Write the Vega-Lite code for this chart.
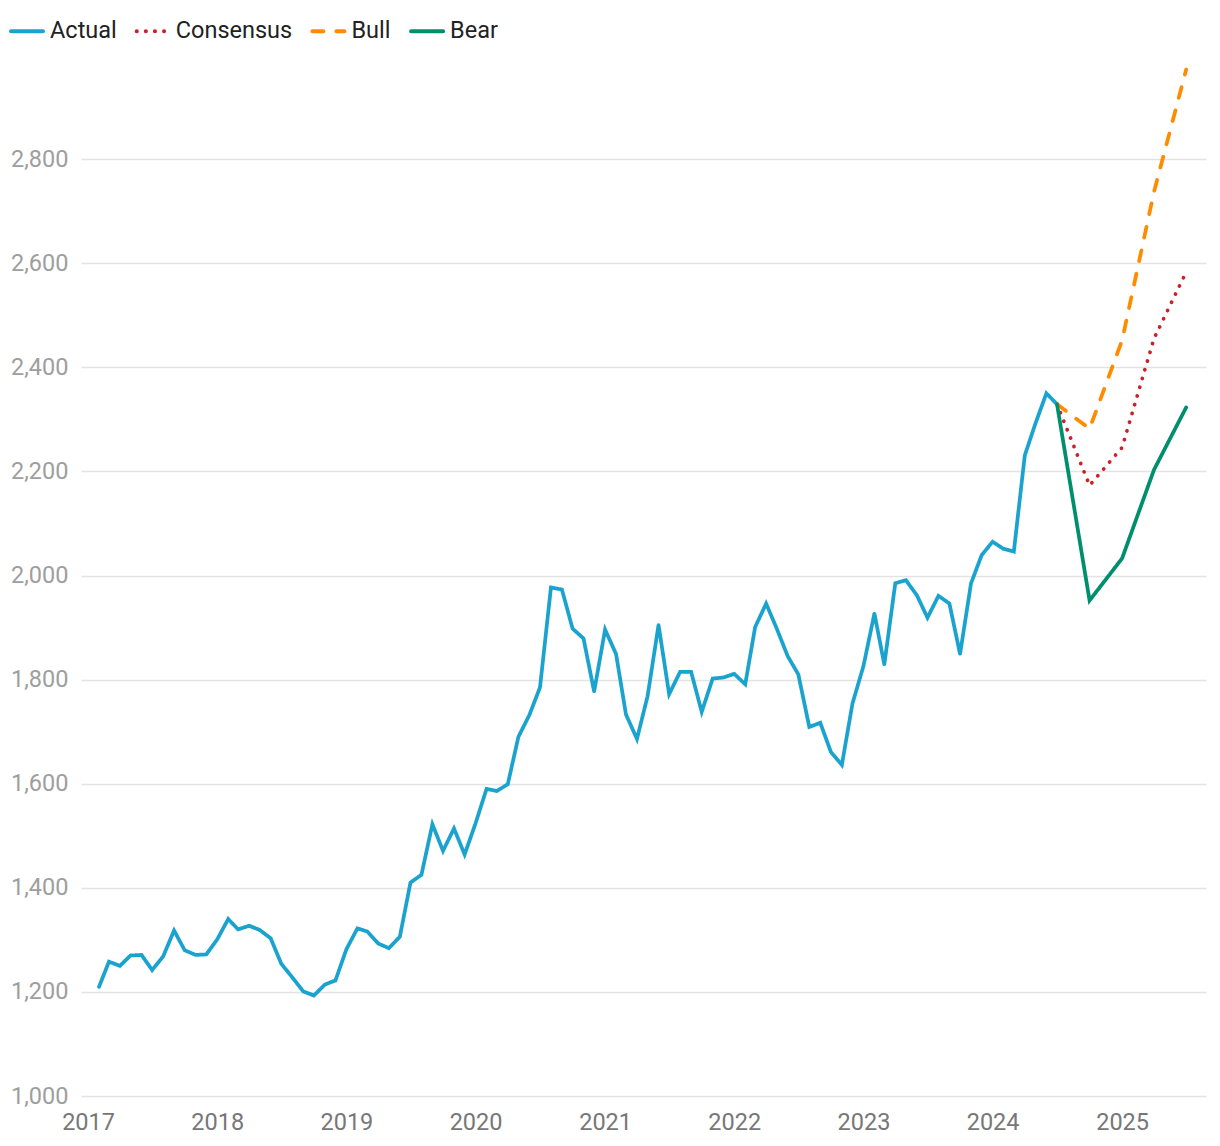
{
  "$schema": "https://vega.github.io/schema/vega-lite/v6.json",
  "width": 1125,
  "height": 1041,
  "autosize": {"type": "none"},
  "padding": {"left": 81, "top": 55, "right": 14, "bottom": 50},
  "background": "#ffffff",
  "config": {
    "view": {"stroke": null},
    "font": "Roboto"
  },
  "data": {
    "values": [
      {"date": "2017-02-01T00:00:00", "value": 1210, "series": "Actual"},
      {"date": "2017-03-01T00:00:00", "value": 1258, "series": "Actual"},
      {"date": "2017-04-01T00:00:00", "value": 1250, "series": "Actual"},
      {"date": "2017-05-01T00:00:00", "value": 1270, "series": "Actual"},
      {"date": "2017-06-01T00:00:00", "value": 1271, "series": "Actual"},
      {"date": "2017-07-01T00:00:00", "value": 1242, "series": "Actual"},
      {"date": "2017-08-01T00:00:00", "value": 1268, "series": "Actual"},
      {"date": "2017-09-01T00:00:00", "value": 1318, "series": "Actual"},
      {"date": "2017-10-01T00:00:00", "value": 1280, "series": "Actual"},
      {"date": "2017-11-01T00:00:00", "value": 1271, "series": "Actual"},
      {"date": "2017-12-01T00:00:00", "value": 1272, "series": "Actual"},
      {"date": "2018-01-01T00:00:00", "value": 1301, "series": "Actual"},
      {"date": "2018-02-01T00:00:00", "value": 1340, "series": "Actual"},
      {"date": "2018-03-01T00:00:00", "value": 1320, "series": "Actual"},
      {"date": "2018-04-01T00:00:00", "value": 1327, "series": "Actual"},
      {"date": "2018-05-01T00:00:00", "value": 1319, "series": "Actual"},
      {"date": "2018-06-01T00:00:00", "value": 1303, "series": "Actual"},
      {"date": "2018-07-01T00:00:00", "value": 1254, "series": "Actual"},
      {"date": "2018-08-01T00:00:00", "value": 1228, "series": "Actual"},
      {"date": "2018-09-01T00:00:00", "value": 1201, "series": "Actual"},
      {"date": "2018-10-01T00:00:00", "value": 1193, "series": "Actual"},
      {"date": "2018-11-01T00:00:00", "value": 1214, "series": "Actual"},
      {"date": "2018-12-01T00:00:00", "value": 1222, "series": "Actual"},
      {"date": "2019-01-01T00:00:00", "value": 1282, "series": "Actual"},
      {"date": "2019-02-01T00:00:00", "value": 1322, "series": "Actual"},
      {"date": "2019-03-01T00:00:00", "value": 1316, "series": "Actual"},
      {"date": "2019-04-01T00:00:00", "value": 1293, "series": "Actual"},
      {"date": "2019-05-01T00:00:00", "value": 1284, "series": "Actual"},
      {"date": "2019-06-01T00:00:00", "value": 1306, "series": "Actual"},
      {"date": "2019-07-01T00:00:00", "value": 1410, "series": "Actual"},
      {"date": "2019-08-01T00:00:00", "value": 1425, "series": "Actual"},
      {"date": "2019-09-01T00:00:00", "value": 1522, "series": "Actual"},
      {"date": "2019-10-01T00:00:00", "value": 1471, "series": "Actual"},
      {"date": "2019-11-01T00:00:00", "value": 1514, "series": "Actual"},
      {"date": "2019-12-01T00:00:00", "value": 1464, "series": "Actual"},
      {"date": "2020-01-01T00:00:00", "value": 1524, "series": "Actual"},
      {"date": "2020-02-01T00:00:00", "value": 1590, "series": "Actual"},
      {"date": "2020-03-01T00:00:00", "value": 1586, "series": "Actual"},
      {"date": "2020-04-01T00:00:00", "value": 1599, "series": "Actual"},
      {"date": "2020-05-01T00:00:00", "value": 1690, "series": "Actual"},
      {"date": "2020-06-01T00:00:00", "value": 1732, "series": "Actual"},
      {"date": "2020-07-01T00:00:00", "value": 1785, "series": "Actual"},
      {"date": "2020-08-01T00:00:00", "value": 1977, "series": "Actual"},
      {"date": "2020-09-01T00:00:00", "value": 1973, "series": "Actual"},
      {"date": "2020-10-01T00:00:00", "value": 1898, "series": "Actual"},
      {"date": "2020-11-01T00:00:00", "value": 1879, "series": "Actual"},
      {"date": "2020-12-01T00:00:00", "value": 1777, "series": "Actual"},
      {"date": "2021-01-01T00:00:00", "value": 1896, "series": "Actual"},
      {"date": "2021-02-01T00:00:00", "value": 1849, "series": "Actual"},
      {"date": "2021-03-01T00:00:00", "value": 1733, "series": "Actual"},
      {"date": "2021-04-01T00:00:00", "value": 1686, "series": "Actual"},
      {"date": "2021-05-01T00:00:00", "value": 1768, "series": "Actual"},
      {"date": "2021-06-01T00:00:00", "value": 1905, "series": "Actual"},
      {"date": "2021-07-01T00:00:00", "value": 1772, "series": "Actual"},
      {"date": "2021-08-01T00:00:00", "value": 1815, "series": "Actual"},
      {"date": "2021-09-01T00:00:00", "value": 1815, "series": "Actual"},
      {"date": "2021-10-01T00:00:00", "value": 1738, "series": "Actual"},
      {"date": "2021-11-01T00:00:00", "value": 1802, "series": "Actual"},
      {"date": "2021-12-01T00:00:00", "value": 1804, "series": "Actual"},
      {"date": "2022-01-01T00:00:00", "value": 1811, "series": "Actual"},
      {"date": "2022-02-01T00:00:00", "value": 1791, "series": "Actual"},
      {"date": "2022-03-01T00:00:00", "value": 1901, "series": "Actual"},
      {"date": "2022-04-01T00:00:00", "value": 1946, "series": "Actual"},
      {"date": "2022-05-01T00:00:00", "value": 1898, "series": "Actual"},
      {"date": "2022-06-01T00:00:00", "value": 1845, "series": "Actual"},
      {"date": "2022-07-01T00:00:00", "value": 1810, "series": "Actual"},
      {"date": "2022-08-01T00:00:00", "value": 1709, "series": "Actual"},
      {"date": "2022-09-01T00:00:00", "value": 1717, "series": "Actual"},
      {"date": "2022-10-01T00:00:00", "value": 1661, "series": "Actual"},
      {"date": "2022-11-01T00:00:00", "value": 1636, "series": "Actual"},
      {"date": "2022-12-01T00:00:00", "value": 1754, "series": "Actual"},
      {"date": "2023-01-01T00:00:00", "value": 1826, "series": "Actual"},
      {"date": "2023-02-01T00:00:00", "value": 1927, "series": "Actual"},
      {"date": "2023-03-01T00:00:00", "value": 1829, "series": "Actual"},
      {"date": "2023-04-01T00:00:00", "value": 1985, "series": "Actual"},
      {"date": "2023-05-01T00:00:00", "value": 1991, "series": "Actual"},
      {"date": "2023-06-01T00:00:00", "value": 1962, "series": "Actual"},
      {"date": "2023-07-01T00:00:00", "value": 1919, "series": "Actual"},
      {"date": "2023-08-01T00:00:00", "value": 1961, "series": "Actual"},
      {"date": "2023-09-01T00:00:00", "value": 1946, "series": "Actual"},
      {"date": "2023-10-01T00:00:00", "value": 1849, "series": "Actual"},
      {"date": "2023-11-01T00:00:00", "value": 1985, "series": "Actual"},
      {"date": "2023-12-01T00:00:00", "value": 2039, "series": "Actual"},
      {"date": "2024-01-01T00:00:00", "value": 2065, "series": "Actual"},
      {"date": "2024-02-01T00:00:00", "value": 2051, "series": "Actual"},
      {"date": "2024-03-01T00:00:00", "value": 2046, "series": "Actual"},
      {"date": "2024-04-01T00:00:00", "value": 2231, "series": "Actual"},
      {"date": "2024-05-01T00:00:00", "value": 2292, "series": "Actual"},
      {"date": "2024-06-01T00:00:00", "value": 2350, "series": "Actual"},
      {"date": "2024-07-01T00:00:00", "value": 2329, "series": "Actual"},
      {"date": "2024-07-01T00:00:00", "value": 2329, "series": "Consensus"},
      {"date": "2024-10-01T00:00:00", "value": 2173, "series": "Consensus"},
      {"date": "2025-01-01T00:00:00", "value": 2246, "series": "Consensus"},
      {"date": "2025-04-01T00:00:00", "value": 2455, "series": "Consensus"},
      {"date": "2025-07-01T00:00:00", "value": 2583, "series": "Consensus"},
      {"date": "2024-07-01T00:00:00", "value": 2329, "series": "Bull"},
      {"date": "2024-10-01T00:00:00", "value": 2282, "series": "Bull"},
      {"date": "2025-01-01T00:00:00", "value": 2452, "series": "Bull"},
      {"date": "2025-04-01T00:00:00", "value": 2737, "series": "Bull"},
      {"date": "2025-07-01T00:00:00", "value": 2972, "series": "Bull"},
      {"date": "2024-07-01T00:00:00", "value": 2329, "series": "Bear"},
      {"date": "2024-10-01T00:00:00", "value": 1952, "series": "Bear"},
      {"date": "2025-01-01T00:00:00", "value": 2033, "series": "Bear"},
      {"date": "2025-04-01T00:00:00", "value": 2203, "series": "Bear"},
      {"date": "2025-07-01T00:00:00", "value": 2323, "series": "Bear"}
    ]
  },
  "mark": {"type": "line", "strokeWidth": 3.75, "strokeCap": "round", "strokeJoin": "miter"},
  "encoding": {
    "x": {
      "field": "date",
      "type": "temporal",
      "scale": {
        "domain": [
          {"year": 2016, "month": 12, "date": 12},
          {"year": 2025, "month": 8, "date": 26}
        ],
        "nice": false
      },
      "axis": {
        "title": null,
        "format": "%Y",
        "values": [
          {"year": 2017, "month": 1, "date": 1},
          {"year": 2018, "month": 1, "date": 1},
          {"year": 2019, "month": 1, "date": 1},
          {"year": 2020, "month": 1, "date": 1},
          {"year": 2021, "month": 1, "date": 1},
          {"year": 2022, "month": 1, "date": 1},
          {"year": 2023, "month": 1, "date": 1},
          {"year": 2024, "month": 1, "date": 1},
          {"year": 2025, "month": 1, "date": 1}
        ],
        "grid": false,
        "domain": false,
        "ticks": false,
        "labelFont": "Roboto",
        "labelFontSize": 23.5,
        "labelColor": "#777777",
        "labelPadding": 14,
        "labelAlign": "center",
        "labelFlush": false,
        "labelOverlap": false
      }
    },
    "y": {
      "field": "value",
      "type": "quantitative",
      "scale": {"domain": [1000, 3000], "nice": false, "zero": false},
      "axis": {
        "title": null,
        "values": [1000, 1200, 1400, 1600, 1800, 2000, 2200, 2400, 2600, 2800],
        "format": ",.0f",
        "grid": true,
        "gridColor": "#e3e3e3",
        "gridWidth": 1.6,
        "domain": false,
        "ticks": false,
        "labelFont": "Roboto",
        "labelFontSize": 23.5,
        "labelColor": "#9e9e9e",
        "labelPadding": 13
      }
    },
    "color": {
      "field": "series",
      "type": "nominal",
      "sort": ["Actual", "Consensus", "Bull", "Bear"],
      "scale": {
        "domain": ["Actual", "Consensus", "Bull", "Bear"],
        "range": ["#1ba3d0", "#cc1f27", "#ff8c00", "#008f6d"]
      },
      "legend": {
        "title": null,
        "orient": "none",
        "legendX": -72,
        "legendY": -42,
        "direction": "horizontal",
        "padding": 0,
        "symbolType": "stroke",
        "symbolSize": 1024,
        "symbolStrokeWidth": 4,
        "labelFont": "Roboto",
        "labelFontSize": 23.5,
        "labelColor": "#222222",
        "labelOffset": 5,
        "columnPadding": 11.7,
        "symbolOffset": 0,
        "encode": {
          "symbols": {"update": {"strokeCap": {"value": "round"}}}
        }
      }
    },
    "strokeDash": {
      "field": "series",
      "type": "nominal",
      "scale": {
        "domain": ["Actual", "Consensus", "Bull", "Bear"],
        "range": [[1, 0], [0.1, 9], [11, 13], [1, 0]]
      },
      "legend": null
    }
  }
}
